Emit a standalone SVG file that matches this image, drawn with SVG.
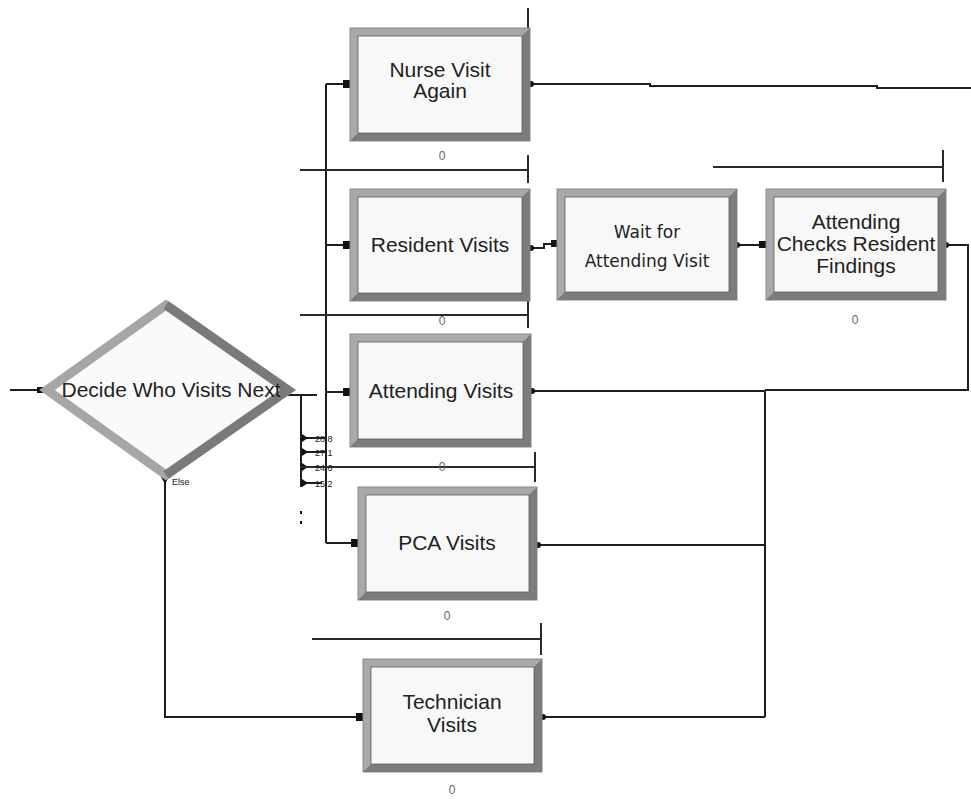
<svg xmlns="http://www.w3.org/2000/svg" width="971" height="799" viewBox="0 0 971 799">
<style>
.bev{fill:#a9a9a9;stroke:#8a8a8a;stroke-width:1}
.dk{fill:#7c7c7c}
.in{fill:#f8f8f8;stroke:#5a5a5a;stroke-width:0.8}
.lbl{font-family:"Liberation Sans",Arial,sans-serif;font-size:21px;fill:#222;text-anchor:middle}
.lbs{font-family:"DejaVu Sans",Verdana,sans-serif;font-size:17px;fill:#222;text-anchor:middle}
.cnt{font-family:"Liberation Sans",Arial,sans-serif;font-size:12px;fill:#666;text-anchor:middle}
.pct{font-family:"Liberation Sans",Arial,sans-serif;font-size:9px;fill:#222}
.ln{fill:none;stroke:#1e1e1e;stroke-width:2}
.q{fill:none;stroke:#2a2a2a;stroke-width:2}
.sq{fill:#111}
</style>
<rect width="971" height="799" fill="#ffffff"/>

<g id="connectors">
  <polyline class="ln" points="10,390 42,390"/>
  <rect class="sq" x="37" y="387" width="7" height="6"/>
  <polyline class="ln" points="286,395 317,395"/>
  <polyline class="ln" points="301,395 301,487"/>
  <polyline class="ln" points="301,438 326,438"/>
  <polyline class="ln" points="301,452 326,452"/>
  <polyline class="ln" points="301,483 322,483"/>
  <polygon class="sq" points="302,434 308,438 302,442"/>
  <polygon class="sq" points="302,448 308,452 302,456"/>
  <polygon class="sq" points="302,463 308,467 302,471"/>
  <polygon class="sq" points="302,479 308,483 302,487"/>
  <rect class="sq" x="300" y="511" width="2" height="3"/>
  <rect class="sq" x="300" y="521" width="2" height="3"/>
  <polyline class="ln" points="326,84 326,543"/>
  <polyline class="ln" points="326,84 346,84"/>
  <polyline class="ln" points="326,245 346,245"/>
  <polyline class="ln" points="326,392 346,392"/>
  <polyline class="ln" points="326,543 354,543"/>
  <rect class="sq" x="343" y="80" width="7" height="8"/>
  <rect class="sq" x="343" y="241" width="7" height="8"/>
  <rect class="sq" x="343" y="388" width="7" height="8"/>
  <rect class="sq" x="351" y="539" width="7" height="8"/>
  <polyline class="ln" points="165,478 165,717 358,717"/>
  <polygon class="sq" points="161,477 169,477 165,484"/>
  <rect class="sq" x="356" y="713" width="7" height="8"/>
  <polyline class="ln" points="530,84 650,84 650,86 877,86 877,88 971,88"/>
  <polyline class="ln" points="530,248 544,248 544,244 553,244"/>
  <rect class="sq" x="551" y="240" width="6" height="7"/>
  <polyline class="ln" points="737,245 760,245"/>
  <rect class="sq" x="759" y="241" width="7" height="7"/>
  <polyline class="ln" points="945,245 968,245 968,390 765,390"/>
  <polyline class="ln" points="531,391 765,391"/>
  <polyline class="ln" points="765,390 765,717"/>
  <polyline class="ln" points="537,545 765,545"/>
  <polyline class="ln" points="542,717 765,717"/>
  <circle class="sq" cx="531" cy="84" r="3"/>
  <circle class="sq" cx="531" cy="248" r="3"/>
  <circle class="sq" cx="737" cy="245" r="3"/>
  <circle class="sq" cx="946" cy="245" r="3"/>
  <circle class="sq" cx="532" cy="391" r="3"/>
  <circle class="sq" cx="538" cy="545" r="3"/>
  <circle class="sq" cx="543" cy="717" r="3"/>
</g>

<g id="queues">
  <polyline class="q" points="528,8 528,30"/>
  <polyline class="q" points="300,170 528,170"/>
  <polyline class="q" points="528,155 528,183"/>
  <polyline class="q" points="713,167 943,167"/>
  <polyline class="q" points="943,150 943,182"/>
  <polyline class="q" points="300,315 528,315"/>
  <polyline class="q" points="528,300 528,328"/>
  <polyline class="q" points="300,467 535,467"/>
  <polyline class="q" points="535,452 535,482"/>
  <polyline class="q" points="312,639 541,639"/>
  <polyline class="q" points="541,623 541,655"/>
</g>

<g id="decide">
  <polygon points="47,390 166,305 288,390 166,475" fill="#fafafa" stroke="#a6a6a6" stroke-width="9" stroke-linejoin="miter"/>
  <polyline points="166,305 288,390 166,475" fill="none" stroke="#7a7a7a" stroke-width="9" stroke-linejoin="miter"/>
  <text class="lbl" x="171" y="397">Decide Who Visits Next</text>
  <text class="pct" x="172" y="485">Else</text>
  <text class="pct" x="315" y="442">28.8</text>
  <text class="pct" x="315" y="456">27.1</text>
  <text class="pct" x="315" y="471">24.6</text>
  <text class="pct" x="315" y="487">15.2</text>
</g>

<g id="nurse">
  <rect class="bev" x="350" y="28" width="180" height="113"/>
  <polygon class="dk" points="530,28 530,141 350,141 358,133 522,133 522,36"/>
  <rect class="in" x="358" y="36" width="164" height="97"/>
  <text class="lbl" x="440" y="77">Nurse Visit</text>
  <text class="lbl" x="440" y="98">Again</text>
  <text class="cnt" x="442" y="160">0</text>
</g>

<g id="resident">
  <rect class="bev" x="350" y="189" width="180" height="112"/>
  <polygon class="dk" points="530,189 530,301 350,301 358,293 522,293 522,197"/>
  <rect class="in" x="358" y="197" width="164" height="96"/>
  <text class="lbl" x="440" y="252">Resident Visits</text>
  <text class="cnt" x="442" y="325">0</text>
</g>

<g id="wait">
  <rect class="bev" x="557" y="189" width="180" height="111"/>
  <polygon class="dk" points="737,189 737,300 557,300 565,292 729,292 729,197"/>
  <rect class="in" x="565" y="197" width="164" height="95"/>
  <text class="lbs" x="647" y="238">Wait for</text>
  <text class="lbs" x="647" y="267">Attending Visit</text>
</g>

<g id="checks">
  <rect class="bev" x="766" y="189" width="180" height="111"/>
  <polygon class="dk" points="946,189 946,300 766,300 774,292 938,292 938,197"/>
  <rect class="in" x="774" y="197" width="164" height="95"/>
  <text class="lbl" x="856" y="229">Attending</text>
  <text class="lbl" x="856" y="251">Checks Resident</text>
  <text class="lbl" x="856" y="273">Findings</text>
  <text class="cnt" x="855" y="324">0</text>
</g>

<g id="attending">
  <rect class="bev" x="350" y="334" width="181" height="113"/>
  <polygon class="dk" points="531,334 531,447 350,447 358,439 523,439 523,342"/>
  <rect class="in" x="358" y="342" width="165" height="97"/>
  <text class="lbl" x="441" y="398">Attending Visits</text>
  <text class="cnt" x="442" y="471">0</text>
</g>

<g id="pca">
  <rect class="bev" x="358" y="487" width="179" height="113"/>
  <polygon class="dk" points="537,487 537,600 358,600 366,592 529,592 529,495"/>
  <rect class="in" x="366" y="495" width="163" height="97"/>
  <text class="lbl" x="447" y="550">PCA Visits</text>
  <text class="cnt" x="447" y="620">0</text>
</g>

<g id="technician">
  <rect class="bev" x="363" y="659" width="179" height="113"/>
  <polygon class="dk" points="542,659 542,772 363,772 371,764 534,764 534,667"/>
  <rect class="in" x="371" y="667" width="163" height="97"/>
  <text class="lbl" x="452" y="709">Technician</text>
  <text class="lbl" x="452" y="732">Visits</text>
  <text class="cnt" x="452" y="794">0</text>
</g>
</svg>
